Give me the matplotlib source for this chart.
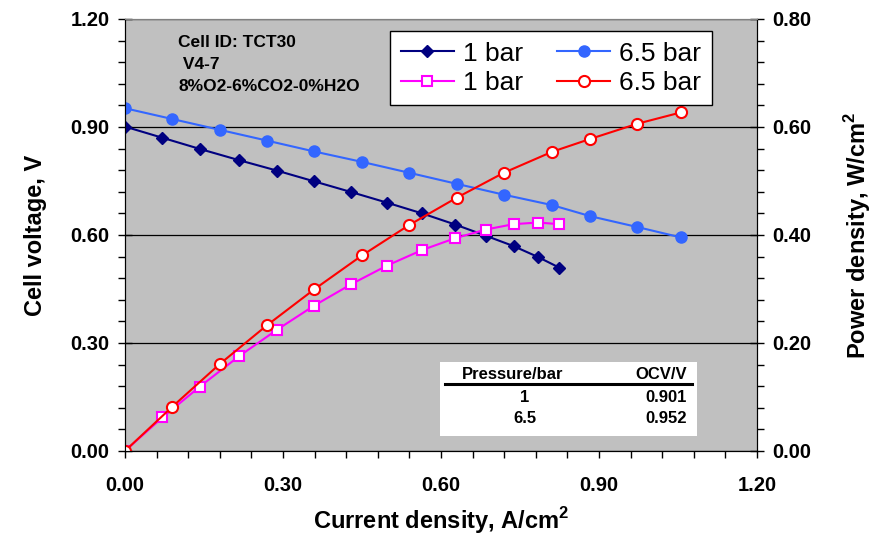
import matplotlib
matplotlib.use('Agg')
import matplotlib.pyplot as plt
from matplotlib.ticker import MultipleLocator, FormatStrFormatter
from matplotlib.patches import Rectangle

plt.rcParams['font.family'] = ['Liberation Sans', 'DejaVu Sans']
plt.rcParams['mathtext.fontset'] = 'custom'
plt.rcParams['mathtext.rm'] = 'Liberation Sans'
plt.rcParams['mathtext.bf'] = 'Liberation Sans:bold'

# 1 bar
i_1 = [0.0, 0.071, 0.142, 0.216, 0.288, 0.359, 0.430, 0.497, 0.564, 0.627, 0.685, 0.738, 0.784, 0.825]
v_1 = [0.901, 0.870, 0.839, 0.808, 0.779, 0.749, 0.719, 0.690, 0.660, 0.629, 0.598, 0.569, 0.539, 0.509]
p_1 = [0.0, 0.062, 0.119, 0.175, 0.224, 0.269, 0.309, 0.343, 0.372, 0.394, 0.410, 0.420, 0.423, 0.420]

# 6.5 bar
i_65 = [0.0, 0.090, 0.180, 0.270, 0.359, 0.450, 0.539, 0.630, 0.719, 0.811, 0.884, 0.973, 1.056]
v_65 = [0.952, 0.922, 0.892, 0.862, 0.832, 0.803, 0.773, 0.742, 0.712, 0.683, 0.652, 0.622, 0.593]
p_65 = [0.0, 0.082, 0.161, 0.233, 0.299, 0.362, 0.418, 0.469, 0.515, 0.554, 0.578, 0.606, 0.627]

table_header = ['Pressure/bar', 'OCV/V']
table_p = ['1', '6.5']
table_ocv = ['0.901', '0.952']

fig = plt.figure(figsize=(8.74, 5.42), dpi=100)
ax = fig.add_axes([0.143, 0.168, 0.723, 0.797])
ax2 = ax.twinx()
ax.set_facecolor('#C0C0C0')

l1, = ax.plot(i_1, v_1, color='#000080', lw=1.5, marker='D', ms=6.5, label='1 bar', zorder=3)
l2, = ax.plot(i_65, v_65, color='#3366FF', lw=1.5, marker='o', ms=8, label='6.5 bar', zorder=3)
l3, = ax2.plot(i_1, p_1, color='#FF00FF', lw=1.5, marker='s', ms=7.5, mfc='white', mew=1.5, label='1 bar')
l4, = ax2.plot(i_65, p_65, color='#FF0000', lw=1.5, marker='o', ms=8, mfc='white', mew=1.5, label='6.5 bar')

ax.set_xlim(0, 1.2)
ax.set_ylim(0, 1.2)
ax2.set_ylim(0, 0.8)

ax.xaxis.set_major_locator(MultipleLocator(0.3))
ax.xaxis.set_minor_locator(MultipleLocator(0.06))
ax.yaxis.set_major_locator(MultipleLocator(0.3))
ax.yaxis.set_minor_locator(MultipleLocator(0.06))
ax2.yaxis.set_major_locator(MultipleLocator(0.2))
ax2.yaxis.set_minor_locator(MultipleLocator(0.04))
for a in (ax, ax2):
    a.xaxis.set_major_formatter(FormatStrFormatter('%.2f'))
    a.yaxis.set_major_formatter(FormatStrFormatter('%.2f'))

ax.tick_params(axis='x', which='both', direction='out', length=5, width=1, pad=13)
ax.tick_params(axis='y', which='major', direction='inout', length=10, width=1, pad=6)
ax.tick_params(axis='y', which='minor', direction='out', length=5, width=1)
ax2.tick_params(axis='y', which='major', direction='inout', length=10, width=1, pad=6)
ax2.tick_params(axis='y', which='minor', direction='out', length=5, width=1)
for lab in ax.get_xticklabels() + ax.get_yticklabels() + ax2.get_yticklabels():
    lab.set_fontsize(14.5)
    lab.set_fontweight('bold')

ax.grid(axis='y', which='major', color='black', lw=0.9)
ax.set_axisbelow(False)
ax.spines['top'].set_color('#808080')
ax2.spines['top'].set_color('#808080')

ax.set_xlabel('Current density, A/cm$^\\mathbf{2}$', fontsize=17, fontweight='bold', labelpad=7)
ax.set_ylabel('Cell voltage, V', fontsize=17, fontweight='bold', labelpad=17)
ax2.set_ylabel('Power density, W/cm$^\\mathbf{2}$', fontsize=17, fontweight='bold', labelpad=22)

ax.text(0.084, 0.962, 'Cell ID: TCT30\n V4-7\n8%O2-6%CO2-0%H2O', transform=ax.transAxes,
        fontsize=12.5, fontweight='bold', va='top', ha='left', linespacing=1.55)

leg = ax2.legend([l1, l3, l2, l4], ['1 bar', '1 bar', '6.5 bar', '6.5 bar'], ncol=2,
                 loc='upper right', bbox_to_anchor=(0.929, 0.972), borderaxespad=0,
                 fontsize=19, numpoints=1,
                 fancybox=False, framealpha=1, edgecolor='black', handlelength=2.0,
                 columnspacing=1.3, borderpad=0.4, labelspacing=0.2, handletextpad=0.35)
leg.get_frame().set_linewidth(1)

# OCV table
ax2.add_patch(Rectangle((0.498, 0.035), 0.407, 0.171, transform=ax.transAxes,
                        facecolor='white', edgecolor='none', zorder=5))
ax2.plot([0.506, 0.897], [0.155, 0.155], transform=ax.transAxes, color='black', lw=2.2, zorder=6)
ax2.text(0.614, 0.176, table_header[0], transform=ax.transAxes, ha='center', va='center',
         fontsize=12, fontweight='bold', zorder=6)
ax2.text(0.889, 0.176, table_header[1], transform=ax.transAxes, ha='right', va='center',
         fontsize=12, fontweight='bold', zorder=6)
for k, yy in enumerate([0.124, 0.074]):
    ax2.text(0.633, yy, table_p[k], transform=ax.transAxes, ha='center', va='center',
             fontsize=12, fontweight='bold', zorder=6)
    ax2.text(0.889, yy, table_ocv[k], transform=ax.transAxes, ha='right', va='center',
             fontsize=12, fontweight='bold', zorder=6)

fig.savefig('out.png', dpi=100)
